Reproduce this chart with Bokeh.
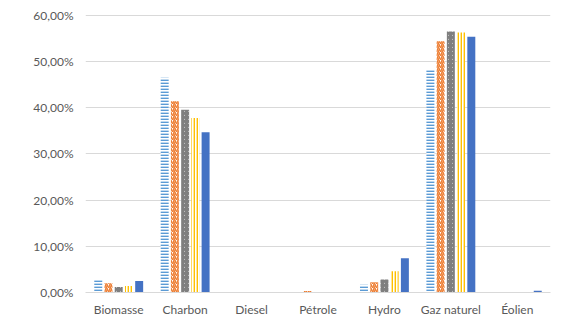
from bokeh.plotting import figure
from bokeh.models import ColumnDataSource, CustomJSTickFormatter, FixedTicker, Range1d
from bokeh.transform import dodge
from bokeh.embed import file_html
from bokeh.resources import INLINE

categories = ["Biomasse", "Charbon", "Diesel", "Pétrole", "Hydro", "Gaz naturel", "Éolien"]
serie1 = [2.7, 46.5, 0.0, 0.0, 1.7, 48.4, 0.0]
serie2 = [2.0, 41.4, 0.0, 0.3, 2.2, 54.4, 0.0]
serie3 = [1.2, 39.6, 0.0, 0.0, 2.8, 56.5, 0.0]
serie4 = [1.4, 37.8, 0.0, 0.0, 4.6, 56.3, 0.0]
serie5 = [2.5, 34.7, 0.0, 0.0, 7.4, 55.4, 0.4]
y_ticks = [0, 10, 20, 30, 40, 50, 60]

source = ColumnDataSource(dict(cat=categories, s1=serie1, s2=serie2, s3=serie3, s4=serie4, s5=serie5))

p = figure(x_range=categories, width=579, height=321, output_backend="svg",
           toolbar_location=None, min_border_left=85, min_border_right=29,
           min_border_top=14, min_border_bottom=29)
p.y_range = Range1d(0, 60.2)

styles = [
    ("s1", -0.308, "#5B9BD5", "horizontal_line", 3, 1.8),
    ("s2", -0.154, "#ED7D31", "right_diagonal_line", 4, 1.6),
    ("s3", 0.0, "#7F7F7F", "left_diagonal_line", 4, 1.8),
    ("s4", 0.154, "#FFC000", "vertical_line", 3, 1.8),
]
for col, off, color, pat, scale, weight in styles:
    p.vbar(x=dodge("cat", off, range=p.x_range), top=col, width=0.12, source=source,
           fill_color="white", line_color=None, hatch_pattern=pat, hatch_color=color,
           hatch_scale=scale, hatch_weight=weight)
p.vbar(x=dodge("cat", 0.308, range=p.x_range), top="s5", width=0.12, source=source,
       fill_color="#4472C4", line_color=None)

p.outline_line_color = None
p.xgrid.grid_line_color = None
p.ygrid.grid_line_color = "#D9D9D9"
p.ygrid.grid_line_width = 1
p.yaxis.ticker = FixedTicker(ticks=y_ticks)
p.yaxis.formatter = CustomJSTickFormatter(code="return tick.toFixed(2).replace('.', ',') + '%';")
for ax in (p.xaxis, p.yaxis):
    ax.axis_line_color = None
    ax.major_tick_line_color = None
    ax.minor_tick_line_color = None
    ax.major_label_text_color = "#595959"
    ax.major_label_text_font = "Lato"
    ax.major_label_text_font_size = "12px"
p.xaxis.axis_line_color = "#D9D9D9"
p.xaxis.major_label_standoff = 3
p.yaxis.major_label_standoff = 6

open("out.html", "w").write(file_html(p, INLINE))
